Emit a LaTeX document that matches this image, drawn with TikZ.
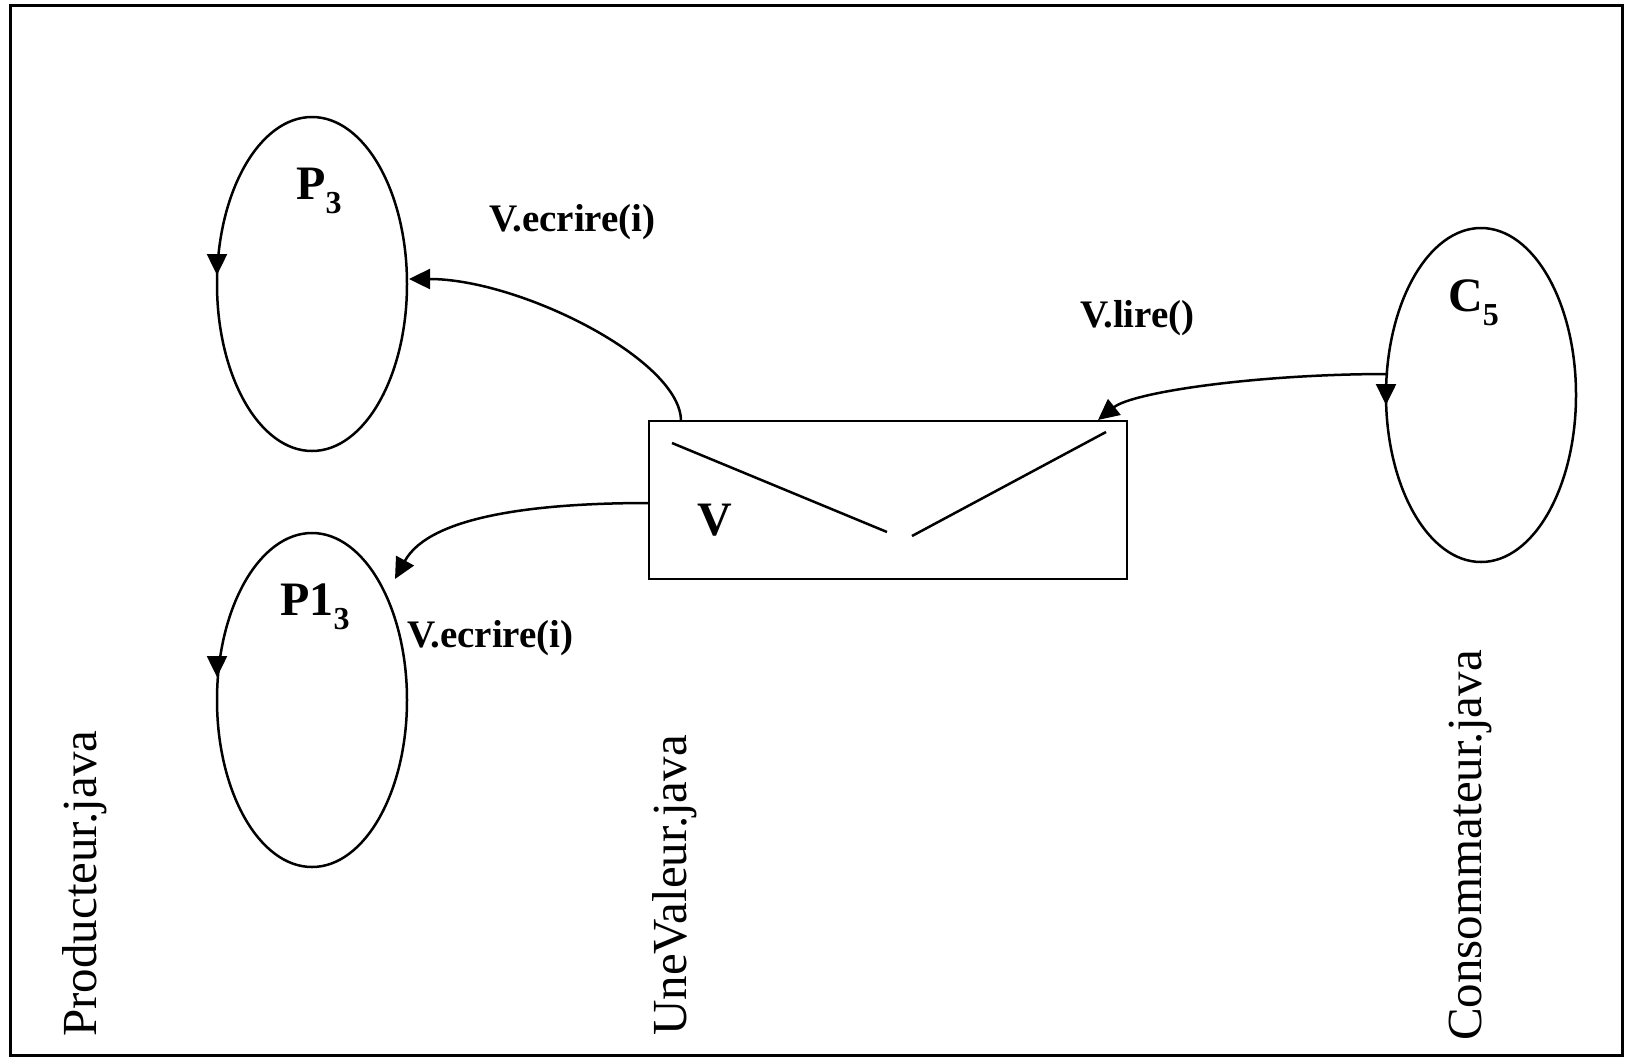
\documentclass[tikz,border=0pt]{standalone}
\usepackage{fontspec}
\setmainfont{Liberation Serif}
\usetikzlibrary{shapes.geometric,arrows.meta,calc}
% lowered, smaller index used in the process labels
\newcommand\subidx[1]{\raisebox{-14pt}{\fontsize{32}{32}\selectfont #1}}
\begin{document}
\begin{tikzpicture}[x=1pt,y=-1pt,
  proc/.style={ellipse,draw,line width=2.5pt,minimum width=190pt,minimum height=334pt,inner sep=0pt,outer sep=0pt},
  store/.style={rectangle,draw,line width=2.6pt,minimum width=478pt,minimum height=158pt,inner sep=0pt,outer sep=0pt},
  link/.style={line width=2.5pt,-{Triangle[length=21pt,width=20pt]}},
  plain/.style={line width=2.5pt},
  big/.style={font=\fontsize{48}{48}\selectfont\bfseries,inner sep=0pt,anchor=base west},
  call/.style={font=\fontsize{39}{39}\selectfont\bfseries,inner sep=0pt,anchor=base west},
  file/.style={font=\fontsize{49}{49}\selectfont,inner sep=0pt,rotate=90,anchor=base west},
]
\useasboundingbox (0,0) rectangle (1625,1058);
\fill[white] (0,0) rectangle (1625,1058);
\draw[line width=3pt] (10,5) rectangle (1622,1055);

% processes and the shared value
\node[proc] (p3) at (312,284) {};
\node[proc] (p13) at (312,700) {};
\node[proc] (c5) at (1481,395) {};
\node[store] (val) at (888,500) {};

% direction of each process loop
\draw[link] ($(p3.west)+(0,-30)$) -- ($(p3.west)+(0,-9)$);
\draw[link] ($(p13.west)+(0,-44)$) -- ($(p13.west)+(0,-23)$);
\draw[link] ($(c5.west)+(0,-11)$) -- ($(c5.west)+(0,10)$);

% the value's contents
\draw[plain] ($(val.north west)+(23,22)$) -- ($(val.north west)+(238,111)$);
\draw[plain] ($(val.north west)+(263,115)$) -- ($(val.north west)+(457,11)$);

% labels
\node[big] (p3lab) at (296,199) {P\subidx{3}};
\node[big] (p13lab) at (280,615) {P1\subidx{3}};
\node[big] (c5lab) at (1448,311) {C\subidx{5}};
\node[big] (vlab) at (697,535) {V};
\node[call] (w1) at (489,231) {V.ecrire(i)};
\node[call] (w2) at (407,647) {V.ecrire(i)};
\node[call] (r1) at (1080,327) {V.lire()};

% method calls
\draw[link] ($(val.north west)+(32,0)$) .. controls +(0,-61) and +(111,0) .. ($(p3.east)+(2,-5)$);
\draw[link] ($(val.west)+(0,3)$) .. controls +(-109,0) and +(35,-64) .. ($(p13.center)+(83,-121)$);
\draw[link] ($(c5.west)+(2,-21)$) .. controls +(-130,0) and +(35,-28) .. ($(val.north east)+(-29,-1)$);

% source files
\node[file] (fprod) at (96,1037) {Producteur.java};
\node[file] (fval) at (686,1036) {UneValeur.java};
\node[file] (fcons) at (1481,1041) {Consommateur.java};
\end{tikzpicture}
\end{document}
